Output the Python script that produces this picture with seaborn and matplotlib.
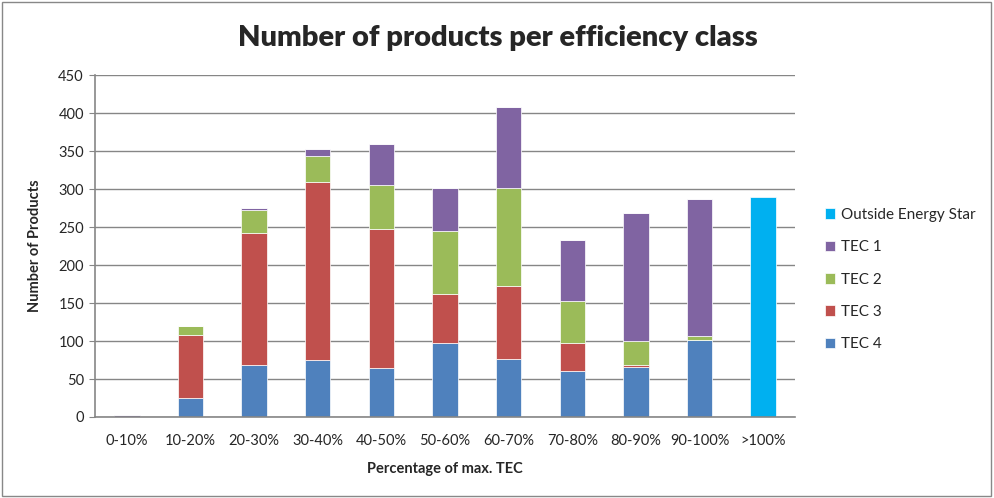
"""
Stacked bar chart: number of products per efficiency class.
Output: out.png
"""

import matplotlib
matplotlib.use("Agg")
import numpy as np
import matplotlib.pyplot as plt
from matplotlib.patches import Rectangle
import seaborn as sns

# =========================
# Data
# =========================
categories = ["0-10%", "10-20%", "20-30%", "30-40%", "40-50%", "50-60%",
              "60-70%", "70-80%", "80-90%", "90-100%", ">100%"]

tec4 = [0, 25, 69, 75, 65, 97, 76, 61, 66, 101, 0]
tec3 = [0, 83, 173, 235, 182, 65, 96, 37, 2, 0, 0]
tec2 = [0, 12, 31, 33, 58, 83, 130, 55, 32, 6, 0]
tec1 = [2, 0, 2, 10, 54, 56, 106, 80, 168, 180, 0]
outside = [0, 0, 0, 0, 0, 0, 0, 0, 0, 0, 289]

# bottom-to-top stacking order
series = [
    ("TEC 4", tec4, "#4F81BD"),
    ("TEC 3", tec3, "#C0504D"),
    ("TEC 2", tec2, "#9BBB59"),
    ("TEC 1", tec1, "#8064A2"),
    ("Outside Energy Star", outside, "#00B0F0"),
]

# =========================
# Plot
# =========================
sns.set_style("white")
plt.rcParams["font.family"] = ["Lato", "DejaVu Sans"]

fig = plt.figure(figsize=(9.95, 4.98), dpi=100)
ax = fig.add_axes([0.0955, 0.1627, 0.7035, 0.6863])

bottom = np.zeros(len(categories))
for name, vals, col in series:
    sns.barplot(x=categories, y=vals, bottom=bottom, color=col, width=0.4,
                label=name, ax=ax, edgecolor="white", linewidth=0.5,
                saturation=1)
    bottom += np.array(vals)

ax.set_ylim(0, 450)
ax.set_xlim(-0.5, len(categories) - 0.5)
ax.set_yticks(range(0, 451, 50))
ax.yaxis.grid(True, color="#868686", linewidth=1)
ax.set_axisbelow(True)

for side in ["top", "right"]:
    ax.spines[side].set_visible(False)
for side in ["left", "bottom"]:
    ax.spines[side].set_color("#868686")
    ax.spines[side].set_linewidth(1.2)

ax.tick_params(axis="y", which="major", length=4, color="#868686",
               labelsize=10.5, pad=4, left=True)
ax.tick_params(axis="x", length=0, labelsize=10.5, pad=12)

ax.set_xlabel("Percentage of max. TEC", fontsize=10.5, fontweight="bold",
              labelpad=10)
ax.set_ylabel("Number of Products", fontsize=10.5, fontweight="bold",
              labelpad=12)
fig.suptitle("Number of products per efficiency class", fontsize=21,
             fontweight="heavy", x=0.5, y=0.95)

handles, labels = ax.get_legend_handles_labels()
ax.legend(handles[::-1], labels[::-1], loc="upper left",
          bbox_to_anchor=(0.815, 0.61), bbox_transform=fig.transFigure,
          frameon=False, fontsize=11, handlelength=0.7, handleheight=0.7,
          handletextpad=0.4, labelspacing=1.2)

# grey frame around the whole chart
fig.patches.append(Rectangle((0.002, 0.004), 0.994, 0.992,
                             transform=fig.transFigure, fill=False,
                             edgecolor="#888888", linewidth=1))

fig.savefig("out.png", dpi=100)
